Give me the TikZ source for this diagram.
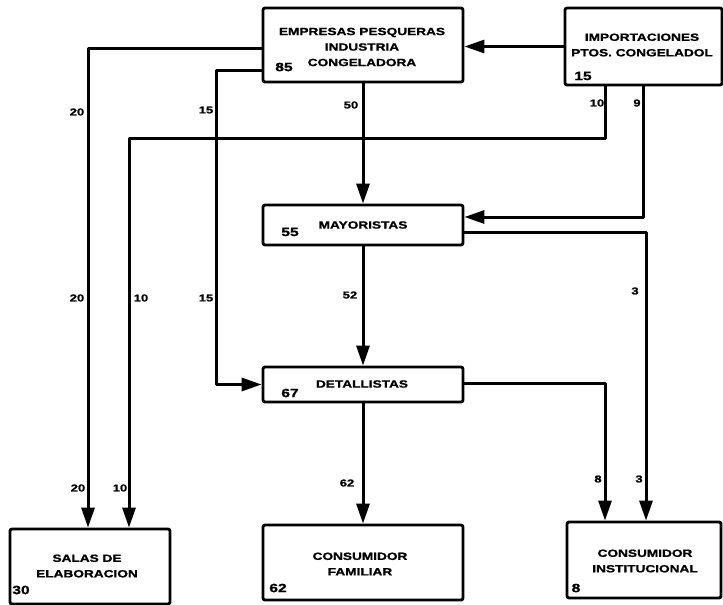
\documentclass[tikz,border=0pt]{standalone}
\usepackage{fontspec}
\newfontfamily\lblfont{Liberation Sans}[FakeStretch=1.3,FakeBold=1.2]
\usetikzlibrary{arrows.meta}
\begin{document}
\begin{tikzpicture}[x=1pt,y=-1pt,
  box/.style={draw, line width=2.8pt, rounded corners=2pt, inner sep=0pt},
  txt/.style={font=\lblfont\bfseries\fontsize{10.5}{15.5}\selectfont, align=center, inner sep=0pt},
  num/.style={font=\lblfont\bfseries\fontsize{12}{13}\selectfont, inner sep=0pt},
  lbl/.style={font=\lblfont\bfseries\fontsize{10}{11}\selectfont, inner sep=0pt},
  flow/.style={line width=3pt, line join=round, -{Triangle[length=20pt,width=13pt]}},
]
\useasboundingbox (0,0) rectangle (723,605);
\fill[white] (0,0) rectangle (723,605);

% boxes
\node[box, minimum width=200pt, minimum height=74pt] (emp) at (363,45) {};
\node[box, minimum width=157pt, minimum height=77pt] (imp) at (643.5,46.5) {};
\node[box, minimum width=200pt, minimum height=40pt] (may) at (363,225) {};
\node[box, minimum width=200pt, minimum height=35pt] (det) at (363,384.5) {};
\node[box, minimum width=160pt, minimum height=75pt] (sal) at (90,566.5) {};
\node[box, minimum width=200pt, minimum height=75pt] (fam) at (363,562.5) {};
\node[box, minimum width=154pt, minimum height=76pt] (ins) at (644,560) {};

% box texts
\node[txt] (empT) at (362,47) {EMPRESAS PESQUERAS\\INDUSTRIA\\CONGELADORA};
\node[num] (empN) at (284,67) {85};
\node[txt] (impT) at (642,45) {IMPORTACIONES\\PTOS. CONGELADOL};
\node[num] (impN) at (583,76) {15};
\node[txt] (mayT) at (363,225) {MAYORISTAS};
\node[num] (mayN) at (290,232) {55};
\node[txt] (detT) at (362,384) {DETALLISTAS};
\node[num] (detN) at (290,393) {67};
\node[txt] (salT) at (87,566) {SALAS DE\\ELABORACION};
\node[num] (salN) at (21,590) {30};
\node[txt] (famT) at (360,564) {CONSUMIDOR\\FAMILIAR};
\node[num] (famN) at (278,588) {62};
\node[txt] (insT) at (645,561) {CONSUMIDOR\\INSTITUCIONAL};
\node[num] (insN) at (576,588) {8};

% connectors
\draw[flow] (imp.west) -- (imp.west -| emp.east);
\draw[flow] ([yshift=-3pt]emp.west) -| ([xshift=-2pt]sal.north);
\draw[flow] ([yshift=-25pt]emp.west) -- ++(-45,0) |- (det.west);
\draw[flow] ([xshift=-38.5pt]imp.south) -- ++(0,52) -| ([xshift=39pt]sal.north);
\draw[flow] ([xshift=-0.5pt]imp.south) |- ([yshift=8pt]may.east);
\draw[flow] (emp.south) -- (may.north);
\draw[flow] (may.south) -- (det.north);
\draw[flow] (det.south) -- (fam.north);
\draw[flow] ([yshift=-7pt]may.east) -| ([xshift=2pt]ins.north);
\draw[flow] ([yshift=1.5pt]det.east) -| ([xshift=-39pt]ins.north);

% flow labels
\node[lbl] (a1) at (77,112) {20};
\node[lbl] (a2) at (77,298) {20};
\node[lbl] (a3) at (78,488) {20};
\node[lbl] (b1) at (597,103) {10};
\node[lbl] (b2) at (141,298) {10};
\node[lbl] (b3) at (120,488) {10};
\node[lbl] (c1) at (206,110) {15};
\node[lbl] (c2) at (206,298) {15};
\node[lbl] (d1) at (637,103) {9};
\node[lbl] (e1) at (351,105) {50};
\node[lbl] (e2) at (350,295) {52};
\node[lbl] (e3) at (347,483) {62};
\node[lbl] (f1) at (635,291) {3};
\node[lbl] (f2) at (639,479) {3};
\node[lbl] (g1) at (598,479) {8};
\end{tikzpicture}
\end{document}
